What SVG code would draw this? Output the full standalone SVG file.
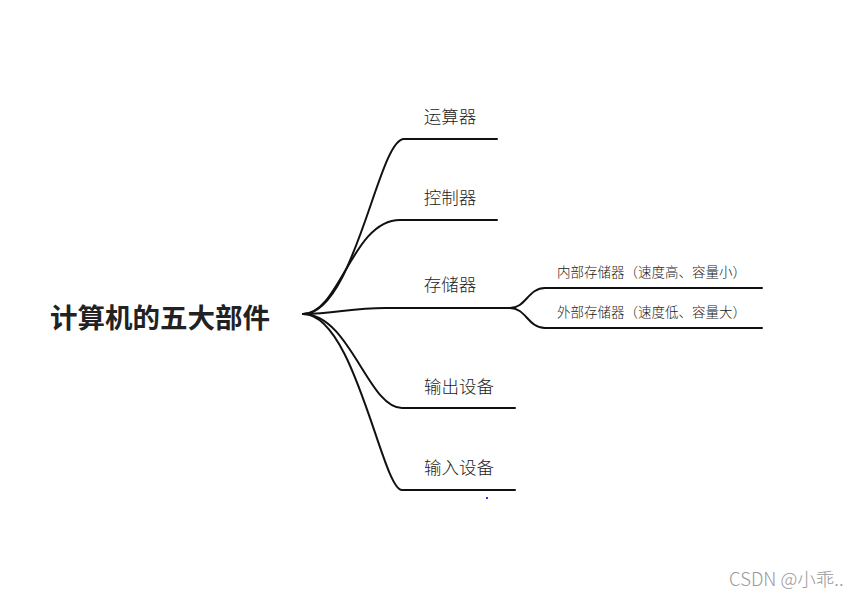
<svg xmlns="http://www.w3.org/2000/svg" width="866" height="597" viewBox="0 0 866 597">
<style>
.ln{fill:none;stroke:#111;stroke-width:2;stroke-linecap:round}
.t{font-family:"Noto Sans CJK SC","Liberation Sans",sans-serif;fill:#222;dominant-baseline:central}
.lab{font-size:17.5px;text-anchor:middle;font-weight:300}
.sub{font-size:13.5px;font-weight:300}
</style>
<rect width="866" height="597" fill="#fff"/>
<g id="connectors">
<path class="ln" d="M303,314 C355,314 378,139 404,139 L497,139"/>
<path class="ln" d="M303,314 C340,314 352,220 400,220 L497,220"/>
<path class="ln" d="M303,314 C335,314 350,308 385,308 L510,308"/>
<path class="ln" d="M510,308 C526,308 528,288 545,288 L762,288"/>
<path class="ln" d="M510,308 C526,308 528,328 545,328 L762,328"/>
<path class="ln" d="M303,314 C350,314 368,408 402,408 L515,408"/>
<path class="ln" d="M303,314 C355,314 382,490 402,490 L515,490"/>
</g>
<g id="root"><text class="t" x="50" y="316" font-size="27.5" font-weight="bold" fill="#111">计算机的五大部件</text></g>
<g id="n1"><text class="t lab" x="450" y="115">运算器</text></g>
<g id="n2"><text class="t lab" x="450" y="196">控制器</text></g>
<g id="n3"><text class="t lab" x="450" y="283">存储器</text></g>
<g id="n31"><text class="t sub" x="557" y="271">内部存储器（速度高、容量小）</text></g>
<g id="n32"><text class="t sub" x="557" y="311">外部存储器（速度低、容量大）</text></g>
<g id="n4"><text class="t lab" x="459" y="385">输出设备</text></g>
<g id="n5"><text class="t lab" x="459" y="466">输入设备</text></g>
<rect x="486" y="497" width="2" height="2" fill="#33f"/>
<text class="t" x="729" y="578" font-size="18.5" style="fill:#999;font-weight:300">CSDN @小乖..</text>
</svg>
